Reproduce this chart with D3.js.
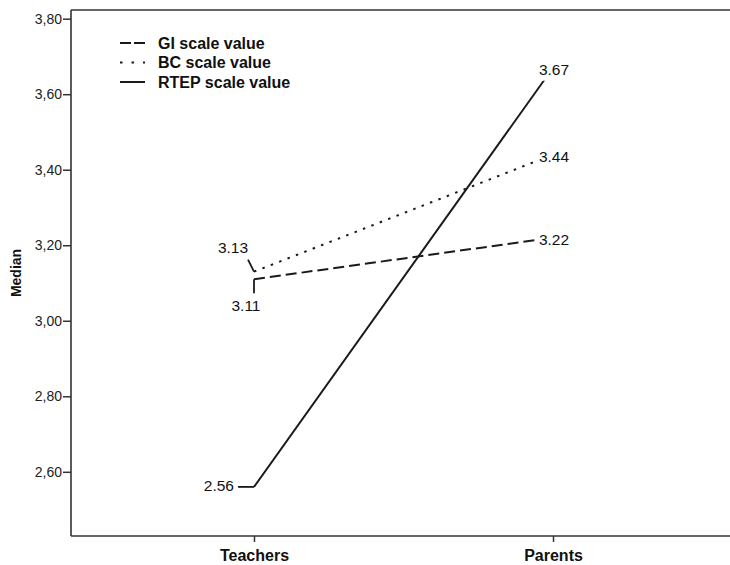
<!DOCTYPE html>
<html>
<head>
<meta charset="utf-8">
<script src="https://cdn.jsdelivr.net/npm/d3@7"></script>
<style>
  body { margin: 0; background: #fff; overflow: hidden; }
  svg { font-family: "Liberation Sans", Arial, sans-serif; display: block; }
</style>
</head>
<body>
<svg id="chart" width="730" height="565"></svg>
<script>
// data
const categories = ["Teachers", "Parents"]
const seriesNames = ["GI scale value", "BC scale value", "RTEP scale value"]
const giValues = [3.11, 3.22]
const bcValues = [3.13, 3.44]
const rtepValues = [2.56, 3.67]
const yTicks = [2.6, 2.8, 3.0, 3.2, 3.4, 3.6, 3.8]

const series = [
  { name: seriesNames[0], values: giValues, dash: "11,5", legendDash: "11,3", teacherLabel: "below" },
  { name: seriesNames[1], values: bcValues, dash: "2.5,6.5", legendDash: "2.5,9", teacherLabel: "above" },
  { name: seriesNames[2], values: rtepValues, dash: null, legendDash: null, teacherLabel: "left" }
]

const svg = d3.select("#chart")
const plotL = 71, plotR = 736, plotT = 10, plotB = 536
const ink = "#1a1a1a"

const x = d3.scalePoint().domain(categories).range([plotL, plotR]).padding(0.612)
const y = d3.scaleLinear().domain([2.43, 3.823]).range([plotB, plotT])

const comma = d3.formatLocale({ decimal: ",", thousands: ".", grouping: [3], currency: ["", ""] })
const fmtTick = comma.format(".2f")
const fmtVal = d3.format(".2f")

// frame (right side runs past the window edge)
const frame = svg.append("g").attr("stroke", "#333").attr("stroke-width", 1.6)
frame.append("line").attr("x1", plotL).attr("x2", plotR + 40).attr("y1", plotT).attr("y2", plotT)
frame.append("line").attr("x1", plotL).attr("x2", plotR + 40).attr("y1", plotB).attr("y2", plotB)
frame.append("line").attr("x1", plotL).attr("x2", plotL).attr("y1", plotT).attr("y2", plotB)

const yAxis = svg.append("g")
  .attr("transform", `translate(${plotL},0)`)
  .call(d3.axisLeft(y).tickValues(yTicks).tickFormat(fmtTick).tickSize(8).tickSizeOuter(0))
yAxis.select(".domain").remove()
yAxis.selectAll("line").attr("stroke", "#333").attr("stroke-width", 1.5)
yAxis.selectAll("text").attr("font-size", 14).attr("fill", "#222").attr("x", -9)

const xAxis = svg.append("g")
  .attr("transform", `translate(0,${plotB})`)
  .call(d3.axisBottom(x).tickSize(6).tickSizeOuter(0))
xAxis.select(".domain").remove()
xAxis.selectAll("line").attr("stroke", "#333").attr("stroke-width", 1.5)
xAxis.selectAll("text").attr("font-size", 16).attr("font-weight", "bold")
  .attr("fill", "#111").attr("dy", "1.0em")

svg.append("text")
  .attr("transform", `translate(21,${(plotT + plotB) / 2}) rotate(-90)`)
  .attr("text-anchor", "middle")
  .attr("font-size", 14).attr("font-weight", "bold").attr("fill", "#111")
  .text("Median")

// lines
const line = d3.line()
  .x((d, i) => x(categories[i]))
  .y(d => y(d))

svg.selectAll("path.series")
  .data(series)
  .join("path")
  .attr("class", "series")
  .attr("d", d => line(d.values))
  .attr("fill", "none")
  .attr("stroke", ink)
  .attr("stroke-width", 2)
  .attr("stroke-dasharray", d => d.dash)

// labels at Teachers with leader lines
series.forEach(s => {
  const px = x(categories[0]), py = y(s.values[0])
  let lx2, ly2, tx, ty, anchor
  if (s.teacherLabel === "below") {
    lx2 = px; ly2 = py + 14; tx = px - 8; ty = py + 32; anchor = "middle"
  } else if (s.teacherLabel === "above") {
    lx2 = px - 6; ly2 = py - 12; tx = px - 21; ty = py - 19; anchor = "middle"
  } else {
    lx2 = px - 16; ly2 = py; tx = px - 20; ty = py + 4; anchor = "end"
  }
  svg.append("line")
    .attr("x1", px).attr("y1", py).attr("x2", lx2).attr("y2", ly2)
    .attr("stroke", ink).attr("stroke-width", 1.8)
  svg.append("text")
    .attr("x", tx).attr("y", ty)
    .attr("text-anchor", anchor)
    .attr("font-size", 15.5).attr("fill", "#111")
    .text(fmtVal(s.values[0]))
})

// labels at Parents sit on the point with a white box
series.forEach(s => {
  const px = x(categories[1]), py = y(s.values[1])
  const g = svg.append("g").attr("transform", `translate(${px + 1},${py + 2})`)
  const t = g.append("text")
    .attr("text-anchor", "middle").attr("dy", "0.35em")
    .attr("font-size", 15.5).attr("fill", "#111")
    .text(fmtVal(s.values[1]))
  const bb = t.node().getBBox()
  g.insert("rect", "text")
    .attr("x", bb.x - 3).attr("y", -11)
    .attr("width", bb.width + 6).attr("height", 22)
    .attr("fill", "#fff")
})

// legend
const legend = svg.append("g").attr("transform", "translate(120,43)")
series.forEach((s, i) => {
  const row = legend.append("g").attr("transform", `translate(0,${i * 19.5})`)
  row.append("line")
    .attr("x1", 0).attr("x2", 25)
    .attr("stroke", ink).attr("stroke-width", 2)
    .attr("stroke-dasharray", s.legendDash)
  row.append("text")
    .attr("x", 38).attr("dy", "0.35em")
    .attr("font-size", 16).attr("font-weight", "bold").attr("fill", "#111")
    .text(s.name)
})
</script>
</body>
</html>
